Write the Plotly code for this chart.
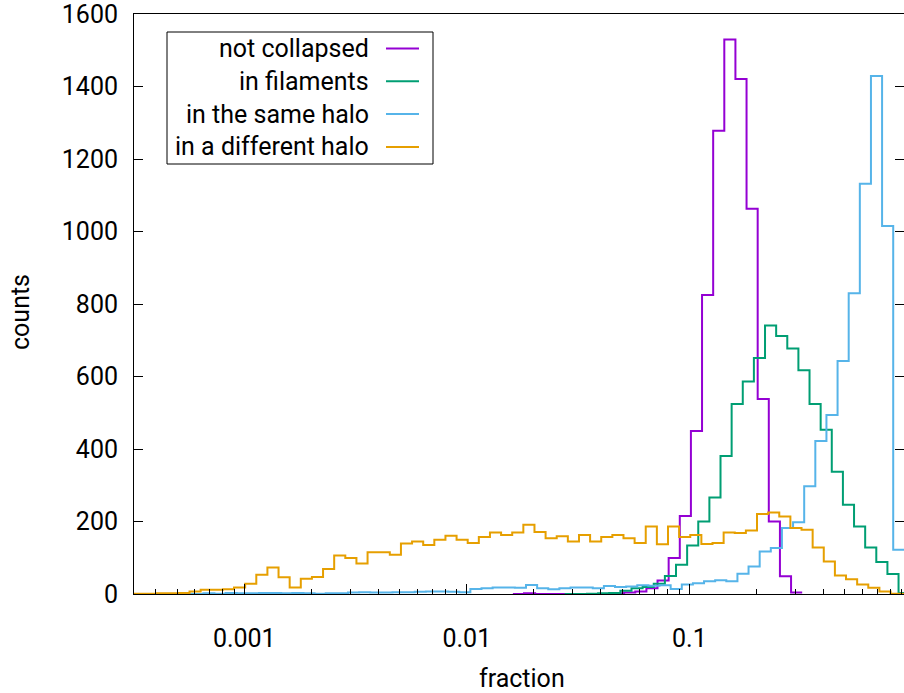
import numpy as np
import plotly.graph_objects as go

# Histogram bins are uniform in log10(fraction)
BIN_WIDTH = 0.05

# log10 of the left edge of the first bin of each histogram
not_collapsed_start = -1.793
filaments_start = -1.56
same_halo_start = -3.284
different_halo_start = -3.496

not_collapsed = [0, 2, 0, 0, 0, 0, 0, 0, 0, 2, 4, 7, 16, 37, 99, 215, 450, 825,
                 1278, 1530, 1421, 1063, 538, 200, 49, 4]

filaments = [0, 0, 1, 2, 3, 9, 16, 19, 28, 50, 81, 134, 200, 266, 381, 524, 586,
             651, 741, 712, 677, 617, 524, 453, 337, 246, 186, 128, 88, 55, 3]

same_halo = [1, 0, 2, 1, 3, 2, 2, 3, 3, 2, 3, 2, 1, 2, 2, 4, 5, 4, 4, 5, 5, 6, 7,
             7, 6, 5, 14, 16, 18, 18, 17, 25, 16, 13, 16, 18, 18, 16, 22, 19, 21,
             24, 23, 24, 14, 26, 30, 35, 38, 35, 56, 76, 117, 127, 182, 198, 297,
             422, 494, 643, 830, 1132, 1429, 1015, 122]

different_halo = [1, 1, 2, 2, 3, 7, 12, 12, 13, 18, 28, 53, 73, 46, 18, 42, 47, 69,
                  106, 99, 84, 115, 115, 108, 139, 145, 135, 150, 161, 150, 141,
                  157, 170, 163, 170, 191, 171, 154, 159, 145, 163, 145, 157, 163,
                  154, 141, 186, 137, 186, 157, 163, 138, 141, 170, 168, 175, 221,
                  225, 214, 182, 177, 128, 90, 51, 41, 26, 17, 7, 1, 0]

series = [
    ("not collapsed", not_collapsed_start, not_collapsed, "#9400D3"),
    ("in filaments", filaments_start, filaments, "#009E73"),
    ("in the same halo", same_halo_start, same_halo, "#56B4E9"),
    ("in a different halo", different_halo_start, different_halo, "#E69F00"),
]

x_major = [0.001, 0.01, 0.1]
x_major_text = ["0.001", "0.01", "0.1"]
x_minor = [m * 10.0 ** e for e in range(-4, 0) for m in range(2, 10)]

FONT = dict(family="Roboto, sans-serif", size=25, color="black")

W, H = 904, 693
L, R, T, B = 134, 0, 14, 99


def paper_x(px):
    return (px - L) / (W - L - R)


def paper_y(py):
    return (H - B - py) / (H - T - B)


fig = go.Figure()
for name, start, counts, color in series:
    edges = 10.0 ** (start + BIN_WIDTH * np.arange(len(counts) + 1))
    fig.add_trace(go.Scatter(
        x=edges, y=list(counts) + [counts[-1]], mode="lines", name=name,
        line=dict(color=color, width=2, shape="hv"), showlegend=False,
    ))

# key box: text on the left, line sample on the right
shapes = [dict(type="rect", xref="paper", yref="paper",
               x0=paper_x(167), x1=paper_x(433), y0=paper_y(164), y1=paper_y(32),
               line=dict(color="black", width=1), fillcolor="white", layer="above")]
annotations = []
for i, (name, _, _, color) in enumerate(series):
    yc = 48.5 + 32.8 * i
    annotations.append(dict(xref="paper", yref="paper", x=paper_x(371), y=paper_y(yc),
                            xanchor="right", yanchor="middle", text=name,
                            showarrow=False, font=FONT))
    shapes.append(dict(type="line", xref="paper", yref="paper",
                       x0=paper_x(386), x1=paper_x(419), y0=paper_y(yc), y1=paper_y(yc),
                       line=dict(color=color, width=2), layer="above"))

annotations.append(dict(xref="paper", yref="paper", x=paper_x(522), y=paper_y(678),
                        xanchor="center", yanchor="middle", text="fraction",
                        showarrow=False, font=FONT))
annotations.append(dict(xref="paper", yref="paper", x=paper_x(20), y=paper_y(312),
                        xanchor="center", yanchor="middle", text="counts",
                        textangle=-90, showarrow=False, font=FONT))

fig.update_layout(
    width=W, height=H,
    margin=dict(l=L, r=R, t=T, b=B),
    paper_bgcolor="white", plot_bgcolor="white",
    font=FONT,
    shapes=shapes, annotations=annotations,
    xaxis=dict(
        type="log", range=[-3.4955, -0.0355],
        tickmode="array", tickvals=x_major, ticktext=x_major_text,
        ticks="inside", ticklen=10, tickwidth=1, tickcolor="black",
        minor=dict(tickmode="array", tickvals=x_minor, ticks="inside",
                   ticklen=5, tickwidth=1, tickcolor="black", showgrid=False),
        showline=True, linecolor="black", linewidth=1, mirror=True,
        showgrid=False, zeroline=False, ticklabelstandoff=22,
        ticklabeloverflow="allow",
    ),
    yaxis=dict(
        range=[0, 1600], dtick=200, tick0=0,
        ticks="inside", ticklen=9, tickwidth=1, tickcolor="black",
        showline=True, linecolor="black", linewidth=1, mirror="ticks",
        showgrid=False, zeroline=False, ticklabelstandoff=10,
        ticklabeloverflow="allow",
    ),
)

fig.write_html("out.html")
